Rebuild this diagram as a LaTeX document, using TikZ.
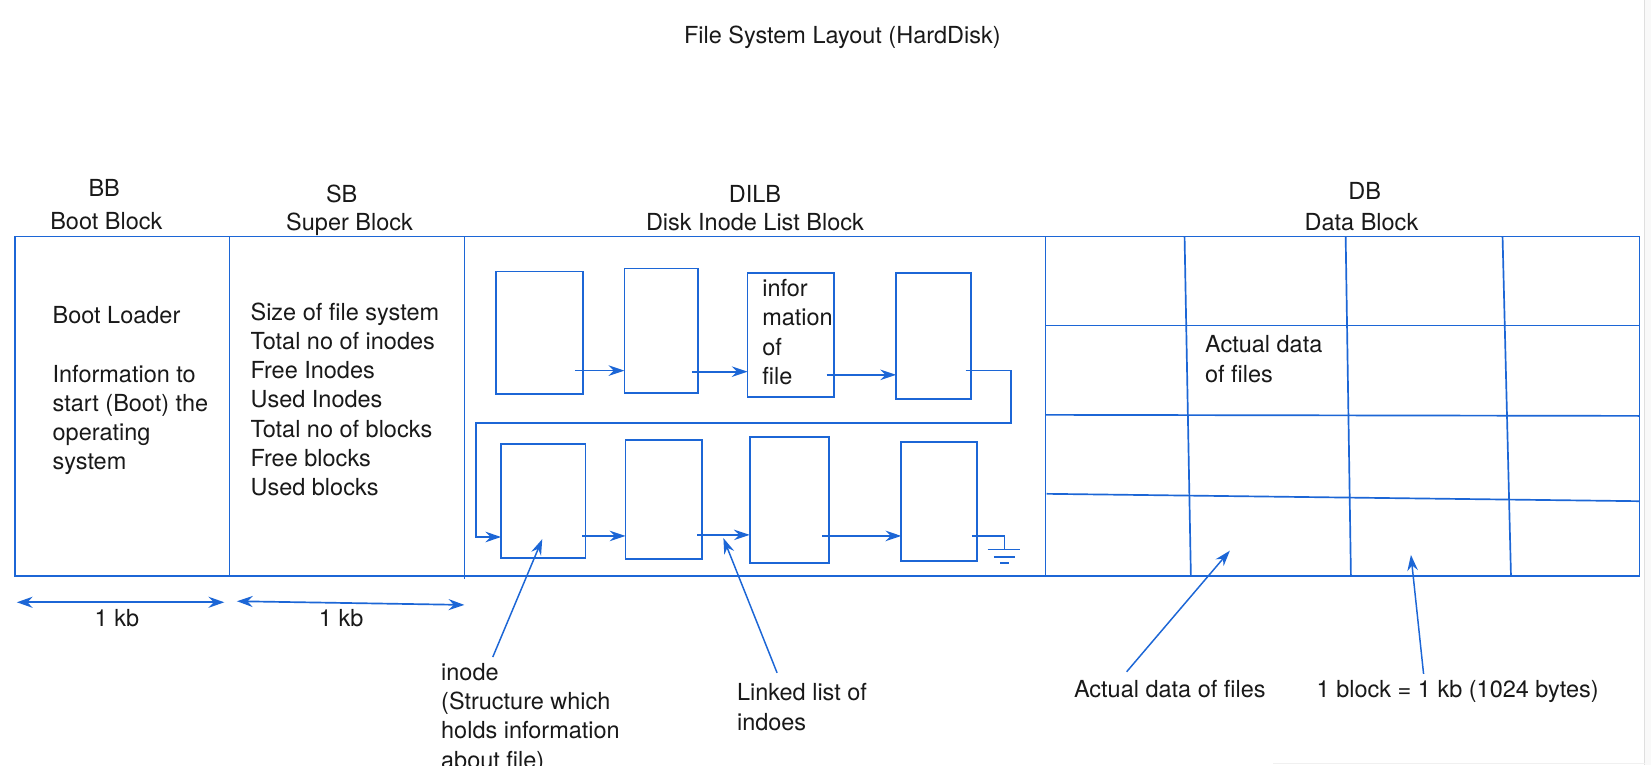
\documentclass[tikz,border=0pt]{standalone}
\usepackage{fontspec}
\setmainfont{TeX Gyre Heros}
\usetikzlibrary{arrows.meta,calc}
\definecolor{lb}{RGB}{28,102,214}
\definecolor{tx}{RGB}{25,25,25}
\begin{document}
\begin{tikzpicture}[x=1pt,y=-1pt,
  line/.style={draw=lb, line width=1.6pt},
  blk/.style={draw=lb, line width=1.6pt, rectangle, inner sep=0pt, outer sep=0pt},
  arr/.style={draw=lb, line width=1.6pt, -{Stealth[length=15pt,width=10pt,inset=5pt]}},
  darr/.style={draw=lb, line width=1.6pt, {Stealth[length=15pt,width=10.5pt,inset=5pt]}-{Stealth[length=15pt,width=10.5pt,inset=5pt]}},
  pointer/.style={draw=lb, line width=1.4pt, -{Stealth[length=15pt,width=10pt,inset=5pt]}},
  lbl/.style={font=\fontsize{22.3}{27.8}\selectfont, text=tx, inner sep=0pt, outer sep=0pt},
]
\useasboundingbox (0,0) rectangle (1568,727);
\clip (0,0) rectangle (1568,727);
\fill[white] (0,0) rectangle (1568,727);
\fill[gray!5] (1562,0) rectangle (1568,727);
\draw[gray!25, line width=0.8pt] (1562,0) -- (1562,727);
\draw[gray!12, line width=0.8pt] (1209,725.5) -- (1562,725.5);

% title
\node[lbl, anchor=base] (title) at (800,41) {File System Layout (HardDisk)};

% main blocks
\node[blk, minimum width=204pt, minimum height=322.5pt] (bb) at (116,385.75) {};
\node[blk, minimum width=223pt, minimum height=322.5pt] (sb) at (329.5,385.75) {};
\node[blk, minimum width=552pt, minimum height=322.5pt] (dilb) at (717,385.75) {};
\node[blk, minimum width=564pt, minimum height=322.5pt] (db) at (1275,385.75) {};
\draw[line] (dilb.south west) -- ++(0,2.5);

% data block grid
\draw[line] (1125,224.5) -- (1131,547);
\draw[line] (1278,224.5) -- (1283,547);
\draw[line] (1427,224.5) -- (1435,547);
\draw[line] (993,309) -- (1557,309);
\draw[line] (993,394) -- (1557,395);
\draw[line] (994,469) -- (1557,476);

% headers
\node[lbl, anchor=base] (bbab) at (99,187) {BB};
\node[lbl, anchor=base] (bbname) at (101,217.5) {Boot Block};
\node[lbl, anchor=base] (sbab) at (324.5,192) {SB};
\node[lbl, anchor=base] (sbname) at (332,219) {Super Block};
\node[lbl, anchor=base] (dilbab) at (717,192) {DILB};
\node[lbl, anchor=base] (dilbname) at (717,219) {Disk Inode List Block};
\node[lbl, anchor=base] (dbab) at (1296,189) {DB};
\node[lbl, anchor=base] (dbname) at (1293,219) {Data Block};

% block contents (base anchor = last line's baseline)
\node[lbl, anchor=base west, align=left] (bbtext) at (50,446.2)
  {Boot Loader\\[27.7pt]Information to\\start (Boot) the\\operating\\system};
\node[lbl, anchor=base west, align=left] (sbtext) at (238,470.8)
  {Size of file system\\Total no of inodes\\Free Inodes\\Used Inodes\\Total no of blocks\\Free blocks\\Used blocks};
\node[lbl, anchor=base west, align=left] (dbtext) at (1144.5,362.8) {Actual data\\of files};

% linked list boxes
\node[blk, minimum width=83pt, minimum height=116pt] (b1) at (512.5,316) {};
\node[blk, minimum width=70pt, minimum height=118pt] (b2) at (628,314) {};
\node[blk, minimum width=82pt, minimum height=118pt] (b3) at (751,318) {};
\node[blk, minimum width=71pt, minimum height=120pt] (b4) at (886.5,319) {};
\node[blk, minimum width=80pt, minimum height=108pt] (b5) at (516,476) {};
\node[blk, minimum width=73pt, minimum height=113pt] (b6) at (630.5,474.5) {};
\node[blk, minimum width=75pt, minimum height=120pt] (b7) at (749.5,475) {};
\node[blk, minimum width=72pt, minimum height=113pt] (b8) at (892,476.5) {};
\node[lbl, anchor=base west, align=left] (b3text) at (724,365) {infor\\mation\\of\\file};

% links
\draw[arr] ([xshift=-8pt]b1.east |- 0,352) -- (b2.west |- 0,352);
\draw[arr] ([xshift=-6pt]b2.east |- 0,353) -- (b3.west |- 0,353);
\draw[arr] ([xshift=-7pt]b3.east |- 0,356) -- (b4.west |- 0,356);
\coordinate (loopA) at (960,402);
\coordinate (loopB) at (452,402);
\draw[arr] ([xshift=-5pt]b4.east |- 0,352) -| (loopA) -- (loopB) |- (b5.west |- 0,510);
\draw[arr] ([xshift=-3pt]b5.east |- 0,509) -- (b6.west |- 0,509);
\draw[arr] ([xshift=-5pt]b6.east |- 0,508) -- (b7.west |- 0,508);
\draw[arr] ([xshift=-6pt]b7.east |- 0,509) -- (b8.west |- 0,509);
\coordinate (gnd) at (954,522);
\draw[line] ([xshift=-5pt]b8.east |- 0,509) -| (gnd);
\draw[line] ([xshift=-16pt]gnd) -- ([xshift=15pt]gnd);
\draw[line] ([shift={(-10,7)}]gnd) -- ([shift={(10,7)}]gnd);
\draw[line] ([shift={(-4,13)}]gnd) -- ([shift={(4,13)}]gnd);

% size arrows
\draw[darr] ([shift={(2,25)}]bb.south west) -- ([shift={(-5,25)}]bb.south east);
\draw[darr] ([shift={(7,24)}]sb.south west) -- ([shift={(0,27.5)}]sb.south east);
\node[lbl, anchor=base] (kb1) at (111,595) {1 kb};
\node[lbl, anchor=base] (kb2) at (324,595) {1 kb};

% annotations
\node[lbl, anchor=base west, align=left] (inodelbl) at (419,729.4)
  {inode\\(Structure which\\holds information\\about file)};
\node[lbl, anchor=base west, align=left] (lllbl) at (700,693.5) {Linked list of\\indoes};
\node[lbl, anchor=base west] (adlbl) at (1020,662) {Actual data of files};
\node[lbl, anchor=base west] (blklbl) at (1250.5,662) {1 block = 1 kb (1024 bytes)};

\coordinate (inodetail) at (468,624);
\coordinate (lltail) at (738,639);
\coordinate (lltip) at (687,511);
\coordinate (adtail) at (1070,638);
\coordinate (adtip) at (1168,523);
\coordinate (blktail) at (1352,640);
\coordinate (blktip) at (1340,527);
\draw[pointer] (inodetail) -- ([shift={(-1,-18)}]b5.south);
\draw[pointer] (lltail) -- (lltip);
\draw[pointer] (adtail) -- (adtip);
\draw[pointer] (blktail) -- (blktip);
\end{tikzpicture}
\end{document}
